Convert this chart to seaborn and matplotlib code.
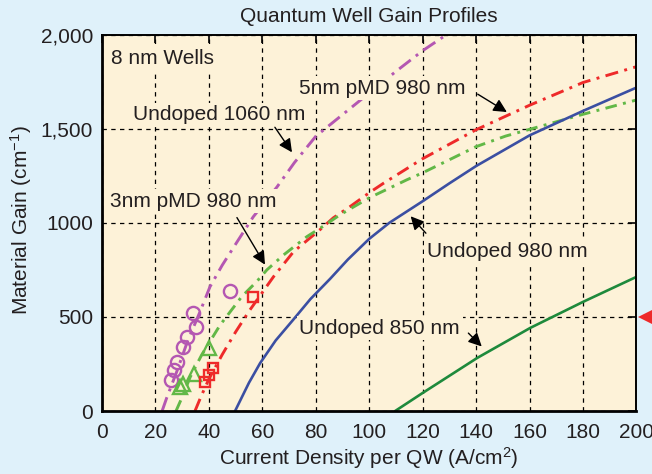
import numpy as np
import pandas as pd
import matplotlib
matplotlib.use("Agg")
import matplotlib.pyplot as plt
import seaborn as sns

# ---------------- data ----------------
x_ticks = [0, 20, 40, 60, 80, 100, 120, 140, 160, 180, 200]
y_ticks = [0, 500, 1000, 1500, 2000]
y_tick_labels = ["0", "500", "1000", "1,500", "2,000"]

undoped1060_x = [22.5, 24.2, 28, 32, 36.7, 40.4, 45, 50.6, 56.6, 65.5, 72, 80, 90, 100, 110, 120, 131]
undoped1060_y = [0, 69, 210, 370, 528, 660, 775, 900, 1032, 1191, 1320, 1460, 1575, 1690, 1805, 1915, 2020]

pmd5_x = [34.8, 37, 40, 45, 50, 55, 60, 64.2, 71.7, 81.6, 86.6, 92.9, 100, 105.4, 120, 140, 160, 180, 200]
pmd5_y = [0, 75, 170, 300, 420, 530, 630, 714, 847, 964, 1027, 1087, 1160, 1211, 1341, 1495, 1625, 1746, 1830]

pmd3_x = [27.7, 29.8, 33, 37.3, 44.2, 52.3, 57.9, 61.7, 68, 76.7, 82.8, 89.1, 100, 114.1, 120, 140, 151, 160, 180, 200]
pmd3_y = [0, 67, 180, 298, 457, 608, 688, 750, 830, 927, 982, 1043, 1133, 1229, 1266, 1405, 1461, 1497, 1577, 1653]

undoped980_x = [49.8, 55, 59.2, 65, 71.5, 78, 85.4, 92, 100, 107.5, 120, 130, 140, 160, 180, 200]
undoped980_y = [0, 150, 255, 375, 484, 595, 703, 805, 915, 1000, 1115, 1210, 1302, 1465, 1595, 1719]

undoped850_x = [109.7, 120, 140.4, 160.3, 180, 200]
undoped850_y = [0, 96, 282, 442, 580, 713]

circles_x = [47.9, 34.2, 35.2, 31.9, 30.4, 28.2, 27.0, 25.7]
circles_y = [640, 520, 445, 392, 342, 262, 218, 165]
triangles_x = [40.2, 34.5, 30.2, 29.2]
triangles_y = [334, 197, 144, 125]
squares_x = [56.4, 41.7, 40.2, 38.6]
squares_y = [608, 227, 191, 153]

marker_level = 500

# ---------------- style ----------------
sns.set_theme(style="white")
plt.rcParams["font.family"] = ["Liberation Sans", "DejaVu Sans"]
plt.rcParams["mathtext.fontset"] = "custom"
plt.rcParams["mathtext.rm"] = "Liberation Sans"
plt.rcParams["mathtext.it"] = "Liberation Sans:italic"
plt.rcParams["mathtext.bf"] = "Liberation Sans:bold"

TXT = "#231f20"
FS = 15
AX_BG = "#fdf2d8"
C_MAG = "#b457b2"
C_RED = "#ee2a2a"
C_LGR = "#62b847"
C_BLU = "#3b4fa2"
C_DGR = "#1e8a3c"

fig = plt.figure(figsize=(6.52, 4.74), dpi=100, facecolor="#dff1fa")
ax = fig.add_axes([0.1564, 0.1329, 0.8198, 0.7939])
ax.set_facecolor(AX_BG)

# grid
ax.set_axisbelow(True)
ax.grid(True, color="black", lw=0.9, linestyle=(0, (3.5, 3.5)))

# curves
sns.lineplot(x=undoped1060_x, y=undoped1060_y, ax=ax, color=C_MAG, lw=2.1,
             linestyle=(0, (5, 2.2, 1, 2.2)), estimator=None, sort=False)
sns.lineplot(x=pmd5_x, y=pmd5_y, ax=ax, color=C_RED, lw=2.1,
             linestyle=(0, (4.5, 2.2, 1, 2.2)), estimator=None, sort=False)
sns.lineplot(x=pmd3_x, y=pmd3_y, ax=ax, color=C_LGR, lw=2.1,
             linestyle=(0, (4, 2.2, 1, 2.2)), estimator=None, sort=False)
sns.lineplot(x=undoped980_x, y=undoped980_y, ax=ax, color=C_BLU, lw=1.9,
             estimator=None, sort=False)
sns.lineplot(x=undoped850_x, y=undoped850_y, ax=ax, color=C_DGR, lw=1.9,
             estimator=None, sort=False)

# experimental markers
sns.lineplot(x=circles_x, y=circles_y, ax=ax, marker="o", linestyle="none",
             markersize=9.5, markerfacecolor="none", markeredgecolor=C_MAG,
             markeredgewidth=1.7, estimator=None, sort=False)
sns.lineplot(x=triangles_x, y=triangles_y, ax=ax, marker="^", linestyle="none",
             markersize=9.5, markerfacecolor="none", markeredgecolor=C_LGR,
             markeredgewidth=1.7, estimator=None, sort=False)
sns.lineplot(x=squares_x, y=squares_y, ax=ax, marker="s", linestyle="none",
             markersize=7, markerfacecolor="none", markeredgecolor=C_RED,
             markeredgewidth=1.7, estimator=None, sort=False)

# red pointer outside the right axis
ax.plot([204.2], [marker_level], marker="<", markersize=14.5, color="#ee2a2a",
        markeredgewidth=0, clip_on=False, zorder=10)

ax.set_xlim(0, 200)
ax.set_ylim(0, 2000)
ax.set_xticks(x_ticks)
ax.set_xticklabels([str(v) for v in x_ticks])
ax.set_yticks(y_ticks)
ax.set_yticklabels(y_tick_labels)
ax.tick_params(axis="both", direction="in", length=6, width=1.2, colors="black",
               labelcolor=TXT, labelsize=FS, top=True, right=True)
ax.tick_params(axis="x", pad=8.5)
ax.tick_params(axis="y", pad=6.5)

for side in ["left", "bottom"]:
    ax.spines[side].set_linewidth(2.0)
    ax.spines[side].set_color("black")
for side in ["top", "right"]:
    ax.spines[side].set_linewidth(1.4)
    ax.spines[side].set_color("black")
    ax.spines[side].set_visible(True)

# labels / title
fig.text(369 / 652, 1 - 22.5 / 474, "Quantum Well Gain Profiles", ha="center",
         va="baseline", fontsize=FS, color=TXT)
fig.text(369 / 652, 1 - 464.5 / 474, "Current Density per QW (A/cm$^{2}$)",
         ha="center", va="baseline", fontsize=FS, color=TXT)
fig.text(21.5 / 652, 1 - 220 / 474, "Material Gain (cm$^{-1}$)", ha="center",
         va="center", rotation=90, fontsize=FS, color=TXT)

# in-plot annotations (with a background patch that hides the grid behind them)
box = dict(boxstyle="square,pad=0.12", facecolor=AX_BG, edgecolor="none")
labels = [
    (3.4, 1843, "8 nm Wells"),
    (11.6, 1545, "Undoped 1060 nm"),
    (3.0, 1085, "3nm pMD 980 nm"),
    (73.7, 1687, "5nm pMD 980 nm"),
    (121.5, 819, "Undoped 980 nm"),
    (73.9, 410, "Undoped 850 nm"),
]
for tx, ty, s in labels:
    ax.text(tx, ty, s, fontsize=FS, color=TXT, va="baseline", ha="left",
            bbox=box, zorder=6)

arrow_kw = dict(arrowstyle="-|>", color="black", lw=1.0, mutation_scale=20,
                shrinkA=0, shrinkB=0)
arrows = [
    ((64.7, 1508), (71.1, 1375)),
    ((50.5, 1028), (61.0, 778)),
    ((140.6, 1684), (151.5, 1589)),
    ((121.2, 945), (115.5, 1035)),
    ((137.1, 414), (142.1, 343)),
]
for tail, head in arrows:
    ax.annotate("", xy=head, xytext=tail, arrowprops=arrow_kw, zorder=7)

fig.savefig("out.png", dpi=100, facecolor=fig.get_facecolor())
